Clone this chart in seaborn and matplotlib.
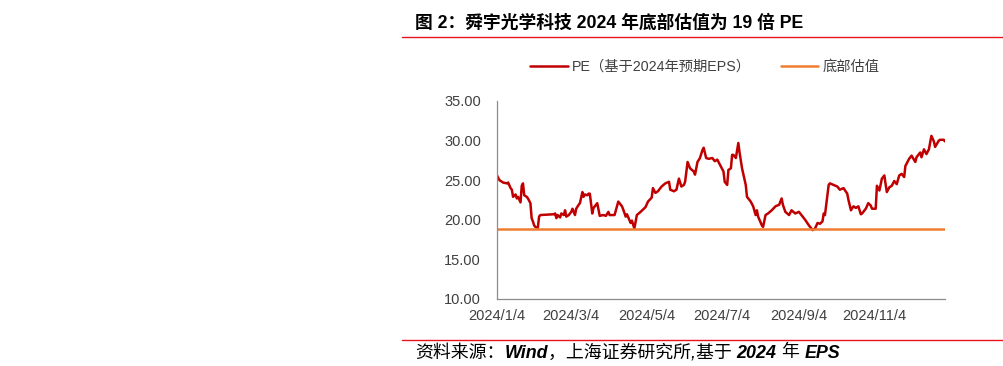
import matplotlib
matplotlib.use("Agg")
import matplotlib.pyplot as plt
import matplotlib.dates as mdates
from matplotlib.lines import Line2D
from matplotlib.ticker import FuncFormatter, FixedLocator
import seaborn as sns
import pandas as pd

# ---------------- data ----------------
dates = [
    "2024-01-04", "2024-01-06", "2024-01-09", "2024-01-12", "2024-01-13", "2024-01-15",
    "2024-01-16", "2024-01-17", "2024-01-19", "2024-01-20", "2024-01-21", "2024-01-23",
    "2024-01-24", "2024-01-25", "2024-01-26", "2024-01-28", "2024-01-29", "2024-01-31",
    "2024-02-01", "2024-02-02", "2024-02-03", "2024-02-04", "2024-02-06", "2024-02-07",
    "2024-02-08", "2024-02-19", "2024-02-20", "2024-02-21", "2024-02-22", "2024-02-24",
    "2024-02-25", "2024-02-27", "2024-02-28", "2024-02-29", "2024-03-02", "2024-03-04",
    "2024-03-05", "2024-03-07", "2024-03-08", "2024-03-10", "2024-03-11", "2024-03-13",
    "2024-03-14", "2024-03-15", "2024-03-17", "2024-03-18", "2024-03-19", "2024-03-21",
    "2024-03-22", "2024-03-25", "2024-03-27", "2024-03-30", "2024-04-01", "2024-04-03",
    "2024-04-04", "2024-04-08", "2024-04-11", "2024-04-13", "2024-04-14", "2024-04-15",
    "2024-04-17", "2024-04-18", "2024-04-21", "2024-04-22", "2024-04-23", "2024-04-24",
    "2024-04-26", "2024-04-29", "2024-05-01", "2024-05-03", "2024-05-05", "2024-05-08",
    "2024-05-09", "2024-05-11", "2024-05-13", "2024-05-16", "2024-05-19", "2024-05-22",
    "2024-05-23", "2024-05-26", "2024-05-28", "2024-05-30", "2024-06-01", "2024-06-03",
    "2024-06-04", "2024-06-06", "2024-06-08", "2024-06-11", "2024-06-12", "2024-06-14",
    "2024-06-16", "2024-06-18", "2024-06-19", "2024-06-21", "2024-06-23", "2024-06-26",
    "2024-06-28", "2024-06-30", "2024-07-03", "2024-07-05", "2024-07-06", "2024-07-08",
    "2024-07-09", "2024-07-11", "2024-07-12", "2024-07-13", "2024-07-15", "2024-07-17",
    "2024-07-18", "2024-07-20", "2024-07-23", "2024-07-24", "2024-07-27", "2024-07-29",
    "2024-07-31", "2024-08-01", "2024-08-02", "2024-08-05", "2024-08-06", "2024-08-08",
    "2024-08-10", "2024-08-13", "2024-08-16", "2024-08-19", "2024-08-21", "2024-08-22",
    "2024-08-24", "2024-08-27", "2024-08-29", "2024-09-01", "2024-09-04", "2024-09-06",
    "2024-09-09", "2024-09-12", "2024-09-15", "2024-09-17", "2024-09-19", "2024-09-21",
    "2024-09-23", "2024-09-24", "2024-09-25", "2024-09-27", "2024-09-28", "2024-09-29",
    "2024-10-02", "2024-10-05", "2024-10-07", "2024-10-10", "2024-10-13", "2024-10-14",
    "2024-10-16", "2024-10-18", "2024-10-20", "2024-10-22", "2024-10-24", "2024-10-25",
    "2024-10-28", "2024-10-30", "2024-11-01", "2024-11-02", "2024-11-05", "2024-11-06",
    "2024-11-08", "2024-11-10", "2024-11-12", "2024-11-13", "2024-11-14", "2024-11-16",
    "2024-11-18", "2024-11-20", "2024-11-22", "2024-11-24", "2024-11-26", "2024-11-28",
    "2024-11-29", "2024-12-02", "2024-12-04", "2024-12-07", "2024-12-08", "2024-12-11",
    "2024-12-12", "2024-12-14", "2024-12-16", "2024-12-18", "2024-12-20", "2024-12-22",
    "2024-12-23", "2024-12-26", "2024-12-27", "2024-12-30", "2024-12-31",
]
pe_values = [
    25.6, 25.0, 24.7, 24.6, 24.7, 24.0,
    23.8, 22.9, 23.2, 22.7, 22.9, 22.2,
    24.3, 24.6, 23.1, 22.9, 22.7, 22.1,
    20.2, 19.8, 19.3, 19.1, 19.0, 20.4,
    20.6, 20.7, 20.8, 20.2, 20.6, 20.3,
    20.8, 20.6, 21.2, 20.4, 20.6, 21.0,
    21.4, 20.6, 21.4, 21.9, 22.1, 23.5,
    22.9, 23.2, 23.1, 23.3, 23.3, 20.8,
    21.5, 22.1, 20.5, 20.6, 20.5, 21.0,
    20.6, 20.6, 22.3, 21.9, 21.7, 21.3,
    20.4, 20.7, 19.6, 19.9, 19.4, 18.9,
    20.6, 21.0, 21.3, 21.6, 22.3, 22.8,
    24.0, 23.4, 23.6, 24.2, 24.6, 24.8,
    23.8, 23.6, 23.8, 25.2, 24.2, 24.4,
    24.8, 27.3, 26.5, 26.1, 25.7, 27.3,
    27.8, 28.8, 29.1, 27.8, 27.7, 27.8,
    27.4, 27.6, 26.7, 26.1, 24.8, 24.4,
    26.3, 26.5, 28.2, 28.2, 27.8, 29.7,
    28.5, 26.5, 24.4, 22.9, 22.3, 21.7,
    20.6, 21.2, 20.4, 19.3, 19.1, 20.6,
    20.8, 21.2, 21.7, 21.9, 22.7, 21.9,
    21.0, 20.6, 21.2, 20.8, 21.0, 20.6,
    20.0, 19.3, 18.7, 18.9, 19.6, 19.5,
    19.8, 20.8, 20.6, 23.1, 24.4, 24.6,
    24.4, 24.2, 23.8, 24.0, 23.3, 22.5,
    21.2, 21.7, 21.5, 21.7, 20.7, 20.8,
    21.4, 22.1, 21.8, 21.4, 21.4, 24.3,
    23.7, 25.2, 25.6, 24.5, 23.5, 24.1,
    24.3, 24.9, 24.5, 25.6, 25.8, 25.4,
    26.8, 27.7, 28.1, 27.3, 27.9, 28.5,
    27.9, 28.9, 28.3, 28.9, 30.6, 29.9,
    29.2, 30.0, 30.1, 30.1, 29.9,
]
bottom_pe = 18.85

y_ticks = [10, 15, 20, 25, 30, 35]
x_tick_dates = ["2024-01-04", "2024-03-04", "2024-05-04", "2024-07-04", "2024-09-04", "2024-11-04"]
x_range = ["2024-01-04", "2024-12-31"]

series_label = "PE（基于2024年预期EPS）"
bottom_label = "底部估值"
title_text = "图 2：舜宇光学科技 2024 年底部估值为 19 倍 PE"
source_parts = [("资料来源：", "normal"), ("Wind", "bold"), ("，上海证券研究所,基于 ", "normal"),
                ("2024", "bold"), (" 年 ", "normal"), ("EPS", "bold")]

# ---------------- style ----------------
sns.set_theme(style="white")
plt.rcParams["font.family"] = ["Liberation Sans", "Noto Sans CJK SC", "DejaVu Sans"]
plt.rcParams["axes.unicode_minus"] = False

RED = "#C00000"
ORANGE = "#ED7D31"
TXT = "#404040"
GRID = "#8C8C8C"
W, H = 1004, 366

df = pd.DataFrame({"date": pd.to_datetime(dates), "pe": pe_values})

fig = plt.figure(figsize=(W / 100, H / 100), dpi=100)
ax = fig.add_axes([497 / W, 1 - 299 / H, (945 - 497) / W, (299 - 101) / H])

sns.lineplot(data=df, x="date", y="pe", ax=ax, color=RED, linewidth=1.8, label=series_label, legend=False)
ax.axhline(bottom_pe, color=ORANGE, linewidth=1.8, label=bottom_label)

ax.set_ylim(y_ticks[0], y_ticks[-1])
ax.yaxis.set_major_locator(FixedLocator(y_ticks))
ax.yaxis.set_major_formatter(FuncFormatter(lambda v, p: f"{v:.2f}"))

xr = pd.to_datetime(x_range)
ax.set_xlim(xr[0], xr[1])
xt = pd.to_datetime(x_tick_dates)
ax.set_xticks(mdates.date2num(xt))
ax.xaxis.set_major_formatter(FuncFormatter(
    lambda v, p: (lambda d: f"{d.year}/{d.month}/{d.day}")(mdates.num2date(v))))

ax.set_xlabel("")
ax.set_ylabel("")
for s in ["top", "right"]:
    ax.spines[s].set_visible(False)
for s in ["left", "bottom"]:
    ax.spines[s].set_color(GRID)
    ax.spines[s].set_linewidth(0.9)
ax.tick_params(axis="both", which="major", direction="out", length=3.5, width=0.8,
               color=GRID, labelsize=10.5, labelcolor=TXT)
ax.tick_params(axis="y", pad=8)
ax.tick_params(axis="x", pad=3.5)
ax.grid(False)

# legend
handles = [Line2D([0], [0], color=RED, lw=1.8), Line2D([0], [0], color=ORANGE, lw=1.8)]
fig.legend(handles, [series_label, bottom_label], loc="center", ncol=2,
           bbox_to_anchor=(705 / W, 1 - 67 / H), frameon=False,
           fontsize=10.3, handlelength=2.6, handletextpad=0.3, columnspacing=2.1,
           labelcolor=TXT)

# title, rules, source
fig.text(415 / W, 1 - 23 / H, title_text, fontsize=12.8, fontweight="bold",
         color="black", ha="left", va="center")
fig.add_artist(Line2D([402 / W, 1.0], [1 - 37 / H, 1 - 37 / H],
                      color="#E8141B", lw=1.0, transform=fig.transFigure))
fig.add_artist(Line2D([402 / W, 1.0], [1 - 339.5 / H, 1 - 339.5 / H],
                      color="#E8141B", lw=1.0, transform=fig.transFigure))

renderer = fig.canvas.get_renderer()
x_px = 415.0
for txt, wt in source_parts:
    t = fig.text(x_px / W, 1 - 353 / H, txt, fontsize=12.9, fontweight=wt,
                 fontstyle="italic", color="black", ha="left", va="center")
    bb = t.get_window_extent(renderer=renderer)
    x_px += bb.width

fig.savefig("out.png", dpi=100)
